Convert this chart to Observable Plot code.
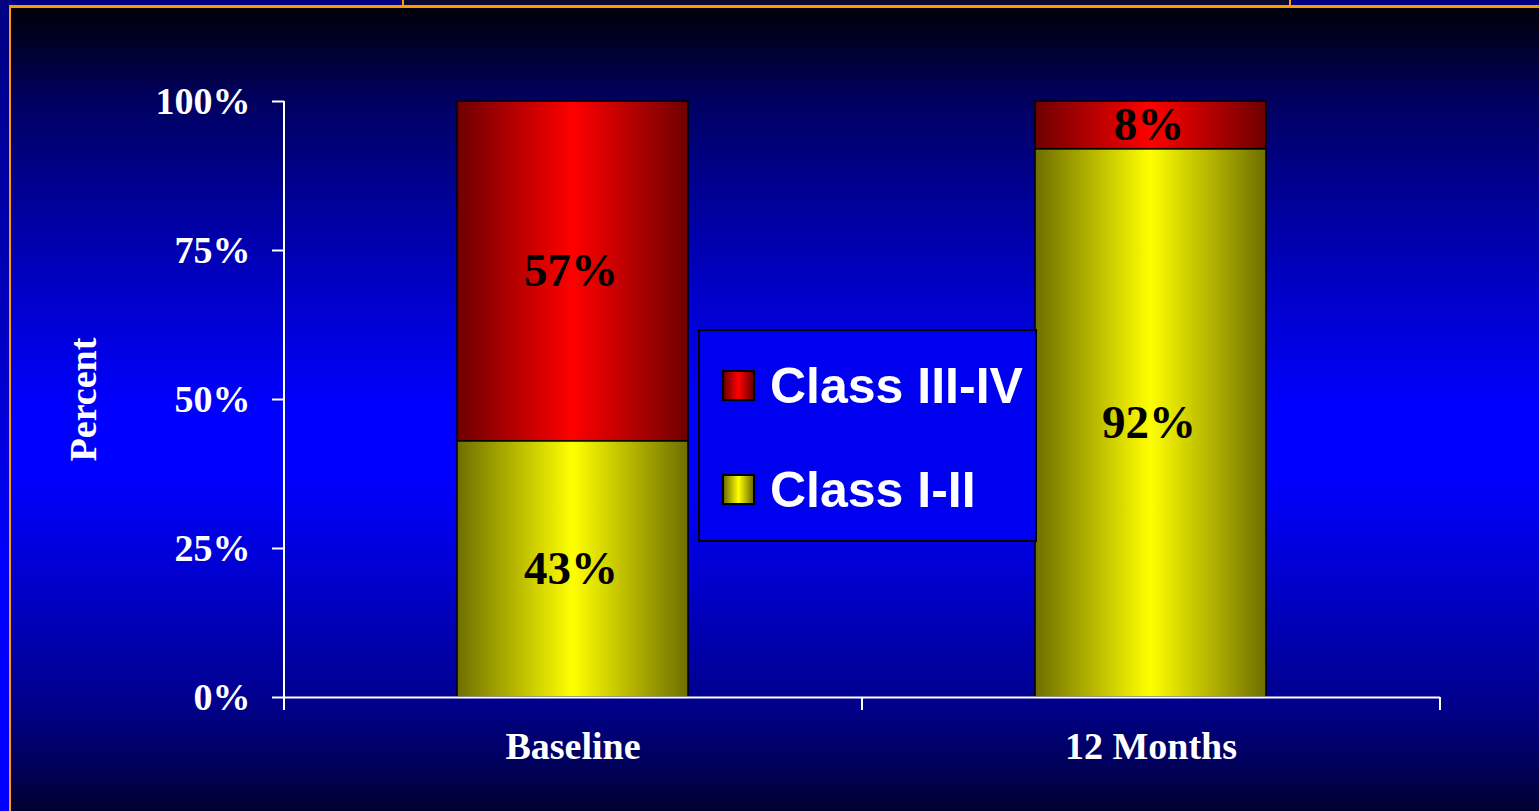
<!DOCTYPE html>
<html>
<head>
<meta charset="utf-8">
<script src="https://cdn.jsdelivr.net/npm/d3@7"></script>
<script src="https://cdn.jsdelivr.net/npm/@observablehq/plot@0.6"></script>
<style>
  html, body { margin: 0; padding: 0; background: #000080; overflow: hidden; }
  #stage { position: relative; width: 1539px; height: 811px;
    background: linear-gradient(to bottom, #000080 0%, #0000c0 40%, #0000ff 70%, #0000ff 100%); }
  #topbox { position: absolute; left: 402px; top: 0; width: 885px; height: 5px;
    background: #0a0a30; border-left: 2px solid #ff9900; border-right: 2px solid #ff9900; }
  #panel { position: absolute; left: 9px; top: 5px; width: 1528px; height: 803px;
    border-left: 2px solid #ff9900; border-top: 3px solid #ff9900;
    background: linear-gradient(to bottom,
      #000008 0%, #000060 11.5%, #000098 23.9%, #0000cc 36.4%, #0000ff 50%,
      #0000ff 58%, #0000d8 68.7%, #000090 85.8%, #000060 93.6%, #000030 100%); }
  #chart { position: absolute; left: 0; top: 0; }
  #legend { position: absolute; left: 698px; top: 329px; width: 339px; height: 213px;
    box-sizing: border-box; border: 2px solid #000; background: #0000f0; }
  .sw { position: absolute; left: 22px; width: 33px; height: 31px; box-sizing: border-box; border: 2px solid #000; }
  .lt { position: absolute; left: 70px; font: bold 50px "Liberation Sans", Arial, sans-serif;
    line-height: 50px; color: #fff; white-space: nowrap; }
</style>
</head>
<body>
<div id="stage">
  <div id="panel"></div>
  <div id="topbox"></div>
  <div id="chart"></div>
  <div id="legend"></div>
</div>
<script>
// ---- data ----
const categories = ["Baseline", "12 Months"];
const seriesNames = ["Class I-II", "Class III-IV"];
const classI_II = [43, 92];
const classIII_IV = [57, 8];
const yTicks = [0, 25, 50, 75, 100];
const yLabel = "Percent";

// ---- layout ----
const W = 1539, H = 811;
const mL = 284, mR = 99, mT = 101, mB = 114;
const plotH = H - mT - mB;
const halfStep = (W - mL - mR) / categories.length / 2;
const serif = "'Liberation Serif', 'Times New Roman', serif";
const lineStyle = {stroke: "white", strokeWidth: 2};

const table = [];
categories.forEach((c, i) => {
  table.push({cat: c, cls: seriesNames[0], value: classI_II[i]});
  table.push({cat: c, cls: seriesNames[1], value: classIII_IV[i]});
});
const fillFor = {"Class I-II": "url(#gradYellow)", "Class III-IV": "url(#gradRed)"};

function gradientDefs() {
  const defs = d3.create("svg:defs");
  for (const [id, edge, mid] of [["gradYellow", "#6e6e00", "#ffff00"], ["gradRed", "#6e0000", "#ff0000"]]) {
    const g = defs.append("linearGradient").attr("id", id)
      .attr("x1", 0).attr("x2", 1).attr("y1", 0).attr("y2", 0);
    g.append("stop").attr("offset", "0%").attr("stop-color", edge);
    g.append("stop").attr("offset", "50%").attr("stop-color", mid);
    g.append("stop").attr("offset", "100%").attr("stop-color", edge);
  }
  return defs.node();
}

const plot = Plot.plot({
  width: W, height: H,
  marginLeft: mL, marginRight: mR, marginTop: mT, marginBottom: mB,
  style: {background: "transparent", color: "white", overflow: "visible"},
  x: {type: "band", domain: categories, paddingInner: 0.6, paddingOuter: 0.3, align: 0.5},
  y: {domain: [0, 100]},
  color: {type: "identity"},
  marks: [
    gradientDefs,
    Plot.barY(table, Plot.stackY({x: "cat", y: "value", fill: d => fillFor[d.cls],
      stroke: "black", strokeWidth: 1.5})),
    Plot.text(table, Plot.stackY({x: "cat", y: "value", text: d => d.value + "%",
      fill: "black", fontSize: 47, fontWeight: "bold", fontFamily: serif, dx: -2})),
    // y axis: ticks + labels
    Plot.axisY({ticks: yTicks, tickFormat: d => d + "%", tickSize: 12, tickPadding: 22,
      stroke: "white", strokeWidth: 2, strokeOpacity: 1, fill: "white", fontSize: 38,
      fontWeight: "bold", fontFamily: serif, label: null}),
    // x axis labels
    Plot.axisX({tickSize: 0, tickPadding: 35, fill: "white",
      fontSize: 38, fontWeight: "bold", fontFamily: serif, label: null}),
    // axis lines
    Plot.ruleY([0], lineStyle),
    Plot.ruleX(categories.slice(0, 1), {x: d => d, dx: -halfStep, insetBottom: -13, ...lineStyle}),
    // x ticks at band boundaries
    Plot.ruleX(categories.slice(1), {x: d => d, dx: -halfStep, insetTop: plotH, insetBottom: -13, ...lineStyle}),
    Plot.ruleX(categories.slice(-1), {x: d => d, dx: halfStep, insetTop: plotH, insetBottom: -13, ...lineStyle}),
    Plot.text([yLabel], {text: d => d, frameAnchor: "left", textAnchor: "middle", rotate: -90, dx: -201,
      fill: "white", fontSize: 38, fontWeight: "bold", fontFamily: serif})
  ]
});
document.getElementById("chart").appendChild(plot);

// ---- legend (inside the plot area) ----
const legend = document.getElementById("legend");
const legendItems = [
  {name: seriesNames[1], grad: "linear-gradient(to right, #6e0000, #ff0000, #6e0000)", sw: 39, tx: 30},
  {name: seriesNames[0], grad: "linear-gradient(to right, #6e6e00, #ffff00, #6e6e00)", sw: 143, tx: 134}
];
for (const it of legendItems) {
  const s = document.createElement("div");
  s.className = "sw"; s.style.top = it.sw + "px"; s.style.background = it.grad;
  legend.appendChild(s);
  const t = document.createElement("div");
  t.className = "lt"; t.style.top = it.tx + "px"; t.textContent = it.name;
  legend.appendChild(t);
}
</script>
</body>
</html>
